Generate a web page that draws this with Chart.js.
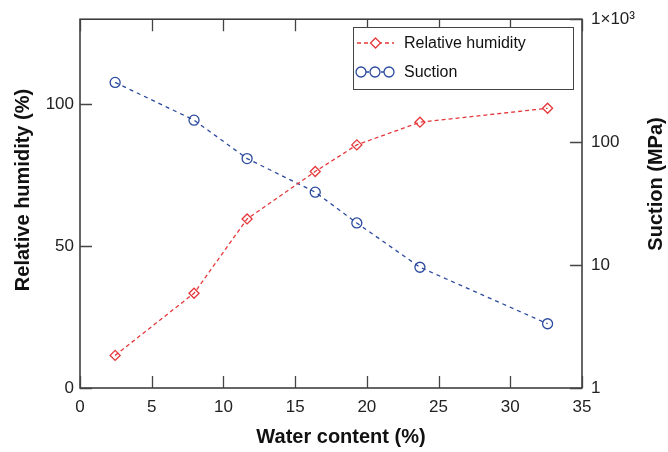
<!DOCTYPE html>
<html><head><meta charset="utf-8">
<script src="https://cdn.jsdelivr.net/npm/chart.js@4/dist/chart.umd.min.js"></script>
<style>html,body{margin:0;padding:0;background:#fff}#wrap{width:668px;height:452px}</style>
</head><body><div id="wrap"><canvas id="c" width="668" height="452"></canvas></div>
<script>
const waterContent = [2.45, 7.95, 11.65, 16.4, 19.3, 23.7, 32.6];
const relativeHumidity = [11.5, 33.4, 59.6, 76.3, 85.7, 93.7, 98.6];
const suction = [306, 151, 73.5, 39.2, 22, 9.6, 3.33];
const xTicks = [0, 5, 10, 15, 20, 25, 30, 35];
const rhTicks = [0, 50, 100];
const suctionTicks = [1, 10, 100, 1000];
const suctionTickLabels = ['1', '10', '100', '1×10³'];
const xTitle = 'Water content (%)';
const yTitle = 'Relative humidity (%)';
const y2Title = 'Suction (MPa)';
const seriesNames = ['Relative humidity', 'Suction'];

const RED = '#e5383b';
const BLUE = '#2b4a9e';
const FONT = "'Liberation Sans', Arial, Helvetica, sans-serif";
Chart.defaults.font.family = FONT;

const decor = {
  id: 'decor',
  afterDraw(chart) {
    const ctx = chart.ctx, ca = chart.chartArea;
    const xs = chart.scales.x, ys = chart.scales.y, y2 = chart.scales.y2;
    ctx.save();
    // frame
    ctx.strokeStyle = '#333'; ctx.lineWidth = 1.5;
    ctx.strokeRect(ca.left, ca.top, ca.right - ca.left, ca.bottom - ca.top);
    // inside ticks
    const TL = 12;
    ctx.strokeStyle = '#444'; ctx.lineWidth = 1.3;
    ctx.beginPath();
    xTicks.forEach(v => {
      const p = Math.round(xs.getPixelForValue(v)) + 0.5;
      ctx.moveTo(p, ca.bottom); ctx.lineTo(p, ca.bottom - TL);
      ctx.moveTo(p, ca.top); ctx.lineTo(p, ca.top + TL);
    });
    rhTicks.forEach(v => {
      const p = Math.round(ys.getPixelForValue(v)) + 0.5;
      ctx.moveTo(ca.left, p); ctx.lineTo(ca.left + TL, p);
    });
    suctionTicks.forEach(v => {
      const p = Math.round(y2.getPixelForValue(v)) + 0.5;
      ctx.moveTo(ca.right, p); ctx.lineTo(ca.right - TL, p);
    });
    ctx.stroke();

    // axis titles
    ctx.fillStyle = '#111';
    ctx.font = 'bold 20px ' + FONT;
    ctx.textAlign = 'center'; ctx.textBaseline = 'middle';
    ctx.fillText(xTitle, 341, 437);
    ctx.save(); ctx.translate(23, 190); ctx.rotate(-Math.PI / 2); ctx.fillText(yTitle, 0, 0); ctx.restore();
    ctx.save(); ctx.translate(656, 184); ctx.rotate(-Math.PI / 2); ctx.fillText(y2Title, 0, 0); ctx.restore();

    // legend
    const bx = 353.5, by = 27.5, bw = 220, bh = 62;
    ctx.fillStyle = '#fff'; ctx.fillRect(bx, by, bw, bh);
    ctx.strokeStyle = '#444'; ctx.lineWidth = 1; ctx.strokeRect(bx, by, bw, bh);
    const rows = [43, 72];
    chart.data.datasets.forEach((ds, i) => {
      const y = rows[i];
      ctx.strokeStyle = ds.borderColor; ctx.lineWidth = 1.3;
      ctx.setLineDash(ds.borderDash);
      ctx.beginPath(); ctx.moveTo(357, y); ctx.lineTo(394, y); ctx.stroke();
      ctx.setLineDash([]);
      const marks = i === 0 ? [375.5] : [361, 375, 389];
      marks.forEach(mx => {
        ctx.strokeStyle = ds.borderColor;
        ctx.fillStyle = '#fff';
        ctx.beginPath();
        if (ds.pointStyle === 'circle') { ctx.arc(mx, y, ds.pointRadius, 0, Math.PI * 2); }
        else { const r = ds.pointRadius; ctx.moveTo(mx, y - r); ctx.lineTo(mx + r, y); ctx.lineTo(mx, y + r); ctx.lineTo(mx - r, y); ctx.closePath(); }
        ctx.fill(); ctx.stroke();
      });
      ctx.fillStyle = '#111'; ctx.font = '16px ' + FONT;
      ctx.textAlign = 'left'; ctx.textBaseline = 'middle';
      ctx.fillText(ds.label, 404, y + 1);
    });
    ctx.restore();
  }
};

new Chart(document.getElementById('c'), {
  type: 'line',
  data: {
    datasets: [
      {
        label: seriesNames[0], yAxisID: 'y',
        data: waterContent.map((x, i) => ({x, y: relativeHumidity[i]})),
        borderColor: RED, backgroundColor: 'rgba(0,0,0,0)', borderWidth: 1.3, borderDash: [4, 3],
        pointStyle: 'rectRot', pointRadius: 5, pointBorderWidth: 1.3, pointBorderColor: RED, pointBackgroundColor: 'rgba(255,255,255,0)',
        tension: 0, fill: false
      },
      {
        label: seriesNames[1], yAxisID: 'y2',
        data: waterContent.map((x, i) => ({x, y: suction[i]})),
        borderColor: BLUE, backgroundColor: 'rgba(0,0,0,0)', borderWidth: 1.3, borderDash: [4, 4],
        pointStyle: 'circle', pointRadius: 5, pointBorderWidth: 1.3, pointBorderColor: BLUE, pointBackgroundColor: 'rgba(255,255,255,0)',
        tension: 0, fill: false
      }
    ]
  },
  options: {
    responsive: false, animation: false, devicePixelRatio: 1,
    layout: {padding: {top: 14, left: 0, right: 0, bottom: 0}},
    plugins: {legend: {display: false}, tooltip: {enabled: false}},
    scales: {
      x: {
        type: 'linear', min: 0, max: 35,
        afterBuildTicks: s => { s.ticks = xTicks.map(v => ({value: v})); },
        grid: {display: false, drawTicks: false}, border: {display: false},
        ticks: {font: {size: 17}, color: '#222', padding: 9, maxRotation: 0, autoSkip: false},
        afterFit: s => { s.height = 64; }
      },
      y: {
        type: 'linear', position: 'left', min: 0, max: 130,
        afterBuildTicks: s => { s.ticks = rhTicks.map(v => ({value: v})); },
        grid: {display: false, drawTicks: false}, border: {display: false},
        ticks: {font: {size: 17}, color: '#222', padding: 6},
        afterFit: s => { s.width = 80; }
      },
      y2: {
        type: 'logarithmic', position: 'right', min: 1, max: 1000,
        afterBuildTicks: s => { s.ticks = suctionTicks.map(v => ({value: v})); },
        grid: {display: false, drawTicks: false}, border: {display: false},
        ticks: {font: {size: 17}, color: '#222', padding: 9,
          callback: v => { const i = suctionTicks.indexOf(v); return i >= 0 ? suctionTickLabels[i] : ''; }},
        afterFit: s => { s.width = 86; }
      }
    }
  },
  plugins: [decor]
});
</script>
</body></html>
